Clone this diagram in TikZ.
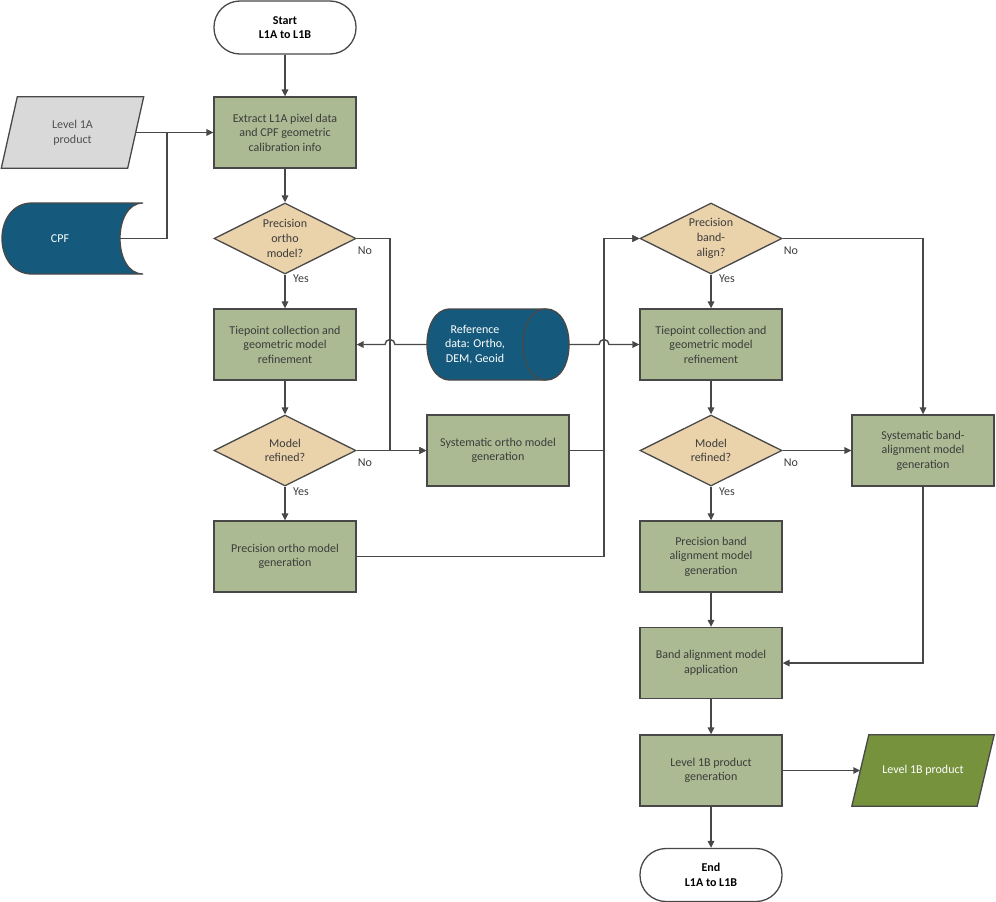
\documentclass[tikz,border=0pt]{standalone}
\usepackage{fontspec}
\setmainfont{Carlito}
\usetikzlibrary{shapes.geometric,arrows.meta,calc}
\definecolor{boxgreen}{RGB}{171,186,146}
\definecolor{diamtan}{RGB}{234,210,170}
\definecolor{lineg}{RGB}{72,72,72}
\definecolor{txtg}{RGB}{60,60,60}
\definecolor{cpfblue}{RGB}{21,90,124}
\definecolor{lagray}{RGB}{217,217,217}
\definecolor{lbgreen}{RGB}{118,146,60}
\begin{document}
\begin{tikzpicture}[x=1pt,y=-1pt,
  every node/.style={font=\fontsize{12}{14.6}\selectfont, align=center},
  procbox/.style={draw=lineg, line width=1.3pt, fill=boxgreen, text=txtg, minimum width=142pt, minimum height=71pt, inner sep=2pt},
  decbox/.style={diamond, aspect=2, draw=lineg, line width=1.3pt, fill=diamtan, text=txtg, minimum width=142pt, minimum height=71pt, inner sep=0pt},
  termbox/.style={draw=lineg, line width=1.3pt, fill=white, rounded corners=26pt, minimum width=142pt, minimum height=53pt, font=\fontsize{12}{14.6}\selectfont\bfseries},
  ghost/.style={minimum width=142pt, minimum height=71pt, inner sep=0pt},
  shapeline/.style={draw=lineg, line width=1.3pt},
  conn/.style={draw=lineg, line width=1.4pt},
  arr/.style={conn, -{Triangle[length=7pt,width=6.5pt]}},
  lbl/.style={text=txtg, inner sep=0pt}
]
\useasboundingbox (0,0) rectangle (996,902);

% ---- nodes ----
\node[termbox] (start) at (285,27.5) {Start\\L1A to L1B};
\node[procbox] (extract) at (285,132.5) {Extract L1A pixel data\\and CPF geometric\\calibration info};
\node[decbox] (d1) at (285,238.5) {Precision\\ortho\\model?};
\node[procbox] (tieL) at (285,344.5) {Tiepoint collection and\\geometric model\\refinement};
\node[decbox] (d2) at (285,450.5) {Model\\refined?};
\node[procbox] (precgen) at (285,556.5) {Precision ortho model\\generation};
\node[procbox] (sysortho) at (498,450.5) {Systematic ortho model\\generation};

\node[decbox] (d3) at (711,238.5) {Precision\\band-\\align?};
\node[procbox] (tieR) at (711,344.5) {Tiepoint collection and\\geometric model\\refinement};
\node[decbox] (d4) at (711,450.5) {Model\\refined?};
\node[procbox] (sysband) at (923,450.5) {Systematic band-\\alignment model\\generation};
\node[procbox] (precband) at (711,556.5) {Precision band\\alignment model\\generation};
\node[procbox] (bandapp) at (711,663) {Band alignment model\\application};
\node[procbox] (l1bgen) at (711,770.5) {Level 1B product\\generation};
\node[termbox] (end) at (711,875) {End\\L1A to L1B};

% Level 1A product (parallelogram)
\node[ghost] (l1a) at (72.5,132.5) {};
\path[shapeline, fill=lagray] ($(l1a.north west)+(16,0)$) -- (l1a.north east) -- ($(l1a.south east)+(-16,0)$) -- (l1a.south west) -- cycle;
\node[text=txtg!90] at (l1a) {Level 1A\\product};
\coordinate (l1aout) at ($(l1a.east)+(-8,0)$);

% Level 1B product (parallelogram)
\node[ghost] (l1b) at (923,770.5) {};
\path[shapeline, fill=lbgreen] ($(l1b.north west)+(17,0)$) -- (l1b.north east) -- ($(l1b.south east)+(-17,0)$) -- (l1b.south west) -- cycle;
\node[text=white] at (l1b) {Level 1B product};
\coordinate (l1bin) at ($(l1b.west)+(8.5,0)$);

% CPF (stored data)
\node[ghost] (cpf) at (72.5,238.5) {};
\path[shapeline, fill=cpfblue] (143,203) -- (32,203) .. controls (-8,203) and (-8,274) .. (32,274) -- (143,274) .. controls (112.3,274) and (112.3,203) .. (143,203) -- cycle;
\node[text=white] at (60,238.5) {CPF};
\coordinate (cpfout) at (120,238.5);

% Reference data (horizontal cylinder)
\node[ghost] (ref) at (498,344.5) {};
\path[shapeline, fill=cpfblue] (450,309) -- (546,309) .. controls (576.7,309) and (576.7,380) .. (546,380) -- (450,380) .. controls (419.3,380) and (419.3,309) .. (450,309) -- cycle;
\draw[shapeline] (546,309) .. controls (515.3,309) and (515.3,380) .. (546,380);
\node[text=white] at (475,344.5) {Reference\\data: Ortho,\\DEM, Geoid};

% ---- connectors ----
\draw[arr] (start) -- (extract);
\draw[arr] (extract) -- (d1);
\draw[arr] (d1) -- (tieL);
\draw[arr] (tieL) -- (d2);
\draw[arr] (d2) -- (precgen);
\draw[arr] (d3) -- (tieR);
\draw[arr] (tieR) -- (d4);
\draw[arr] (d4) -- (precband);
\draw[arr] (precband) -- (bandapp);
\draw[arr] (bandapp) -- (l1bgen);
\draw[arr] (l1bgen) -- (end);

\draw[arr] (l1aout) -- (extract.west);
\coordinate (junc) at (167,132.5);
\draw[conn] (cpfout) -| (junc);

% left "No" branch
\coordinate (xL) at (390,450.5);
\draw[arr] (d1.east) -| (xL) -- (sysortho.west);
\draw[arr] (d2.east) -- (sysortho.west);

% middle collector to d3
\coordinate (xM) at (604,238.5);
\draw[arr] (sysortho.east) -| (xM) -- (d3.west);
\draw[arr] (precgen.east) -| (xM) -- (d3.west);

% reference data feeds with line hops
\draw[arr] (ref.west) -- (395,344.5) arc[start angle=0, end angle=-180, radius=5] -- (tieL.east);
\draw[arr] (ref.east) -- (599,344.5) arc[start angle=180, end angle=360, radius=5] -- (tieR.west);

% right branches
\draw[arr] (d3.east) -| (sysband.north);
\draw[arr] (d4.east) -- (sysband.west);
\draw[arr] (sysband.south) |- (bandapp.east);
\draw[arr] (l1bgen.east) -- (l1bin);

% ---- branch labels ----
\node[lbl] at (365,251) {No};
\node[lbl] at (301,279) {Yes};
\node[lbl] at (365,463) {No};
\node[lbl] at (301,492) {Yes};
\node[lbl] at (791,251) {No};
\node[lbl] at (727,279) {Yes};
\node[lbl] at (791,463) {No};
\node[lbl] at (727,492) {Yes};
\end{tikzpicture}
\end{document}
